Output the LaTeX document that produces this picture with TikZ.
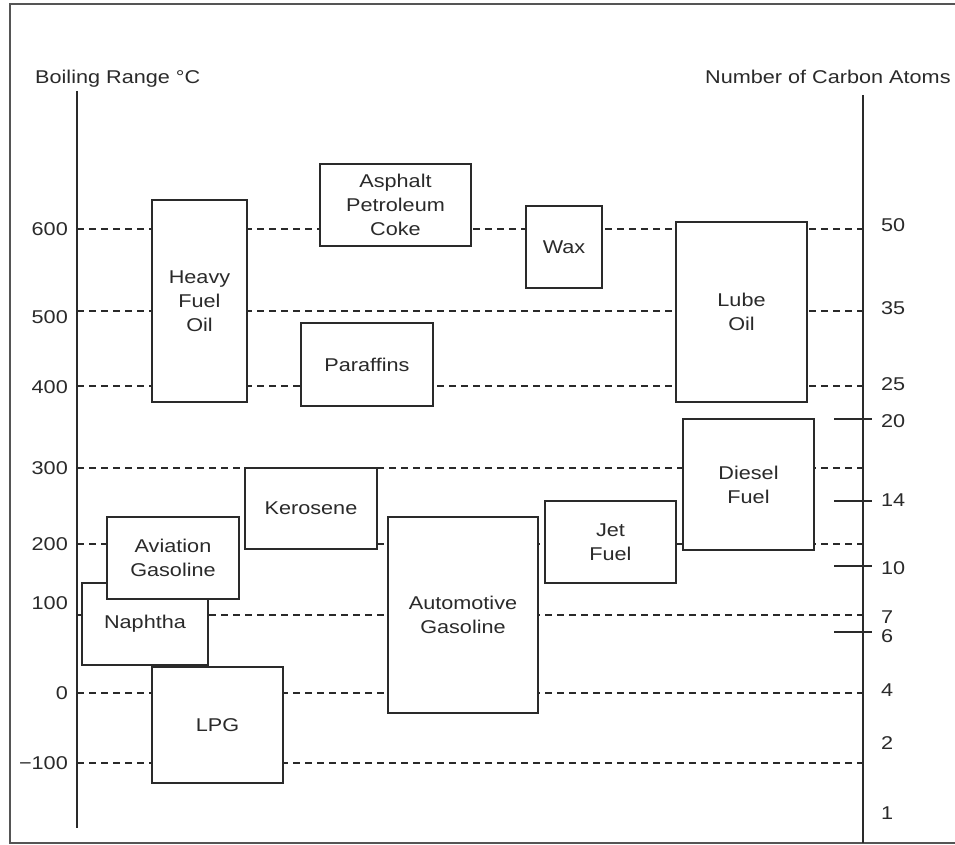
\documentclass[tikz,border=0pt]{standalone}
\usepackage{fontspec}
\setmainfont{Liberation Sans}[FakeStretch=1.17]
\definecolor{ink}{HTML}{2A2A2A}
\definecolor{framec}{HTML}{555555}
\begin{document}
\begin{tikzpicture}[x=1pt,y=-1pt,
  lbl/.style={font=\fontsize{18.5}{24}\selectfont, text=ink, inner sep=0pt},
  fbox/.style={draw=ink, line width=1.4pt, fill=white, inner sep=0pt, align=center,
               font=\fontsize{18.5}{24}\selectfont, text=ink},
  dline/.style={draw=ink, line width=1.2pt, dash pattern=on 7pt off 5pt},
  axisline/.style={draw=ink, line width=1.8pt},
  tickline/.style={draw=ink, line width=1.4pt}]
\useasboundingbox (0,0) rectangle (955,845);
% frame
\coordinate (fTR) at (958,4);
\coordinate (fTL) at (10,4);
\coordinate (fBL) at (10,843);
\coordinate (fBR) at (958,843);
\draw[draw=framec, line width=1.8pt] (fTR) -- (fTL) -- (fBL) -- (fBR);
% dashed level lines
\foreach \yy [count=\i] in {229,311,386,468,544,615,693,763} {
  \coordinate (dl\i) at (77,\yy);
  \coordinate (dr\i) at (863,\yy);
  \draw[dline] (dl\i) -- (dr\i);
}
% boxes
\node[fbox, minimum width=95pt, minimum height=202pt] (hfo) at (199.5,301) {Heavy\\Fuel\\Oil};
\node[fbox, minimum width=151pt, minimum height=82pt] (apc) at (395.5,205) {Asphalt\\Petroleum\\Coke};
\node[fbox, minimum width=76pt, minimum height=82pt] (wax) at (564,247) {Wax};
\node[fbox, minimum width=132pt, minimum height=83pt] (par) at (367,364.5) {Paraffins};
\node[fbox, minimum width=131pt, minimum height=180pt] (lube) at (741.5,312) {Lube\\Oil};
\node[fbox, minimum width=131pt, minimum height=131pt] (dsl) at (748.5,484.5) {Diesel\\Fuel};
\node[fbox, minimum width=131pt, minimum height=82pt] (jet) at (610.5,542) {Jet\\Fuel};
\node[fbox, minimum width=132pt, minimum height=81pt] (ker) at (311,508.5) {Kerosene};
\node[fbox, minimum width=150pt, minimum height=196pt] (auto) at (463,615) {Automotive\\Gasoline};
\node[fbox, minimum width=126pt, minimum height=82pt] (nap) at (145,624) {Naphtha};
\node[fbox, minimum width=132pt, minimum height=82pt] (avg) at (173,558) {Aviation\\Gasoline};
\node[fbox, minimum width=131pt, minimum height=116pt] (lpg) at (217.5,725) {LPG};
% axes
\coordinate (lTop) at (77,91);
\coordinate (lBot) at (77,828);
\coordinate (rTop) at (863,95);
\coordinate (rBot) at (863,843);
\draw[axisline] (lTop) -- (lBot);
\draw[axisline] (rTop) -- (rBot);
% right solid ticks
\foreach \yy [count=\i] in {419,501,566,632} {
  \coordinate (ta\i) at (834,\yy);
  \coordinate (tb\i) at (872,\yy);
  \draw[tickline] (ta\i) -- (tb\i);
}
% axis titles
\node[lbl, anchor=base west] (ltitle) at (35,84) {Boiling Range °C};
\node[lbl, anchor=base west] (rtitle) at (705,84) {Number of Carbon Atoms};
% left tick labels
\node[lbl, anchor=east] (l600) at (68,229) {600};
\node[lbl, anchor=east] (l500) at (68,317) {500};
\node[lbl, anchor=east] (l400) at (68,387) {400};
\node[lbl, anchor=east] (l300) at (68,468) {300};
\node[lbl, anchor=east] (l200) at (68,544) {200};
\node[lbl, anchor=east] (l100) at (68,603) {100};
\node[lbl, anchor=east] (l0) at (68,693) {0};
\node[lbl, anchor=east] (lm100) at (68,763) {−100};
% right tick labels
\node[lbl, anchor=west] (r50) at (881,225) {50};
\node[lbl, anchor=west] (r35) at (881,308) {35};
\node[lbl, anchor=west] (r25) at (881,384) {25};
\node[lbl, anchor=west] (r20) at (881,421) {20};
\node[lbl, anchor=west] (r14) at (881,500) {14};
\node[lbl, anchor=west] (r10) at (881,568) {10};
\node[lbl, anchor=west] (r7) at (881,617) {7};
\node[lbl, anchor=west] (r6) at (881,636) {6};
\node[lbl, anchor=west] (r4) at (881,690) {4};
\node[lbl, anchor=west] (r2) at (881,743) {2};
\node[lbl, anchor=west] (r1) at (881,813) {1};
\end{tikzpicture}
\end{document}
